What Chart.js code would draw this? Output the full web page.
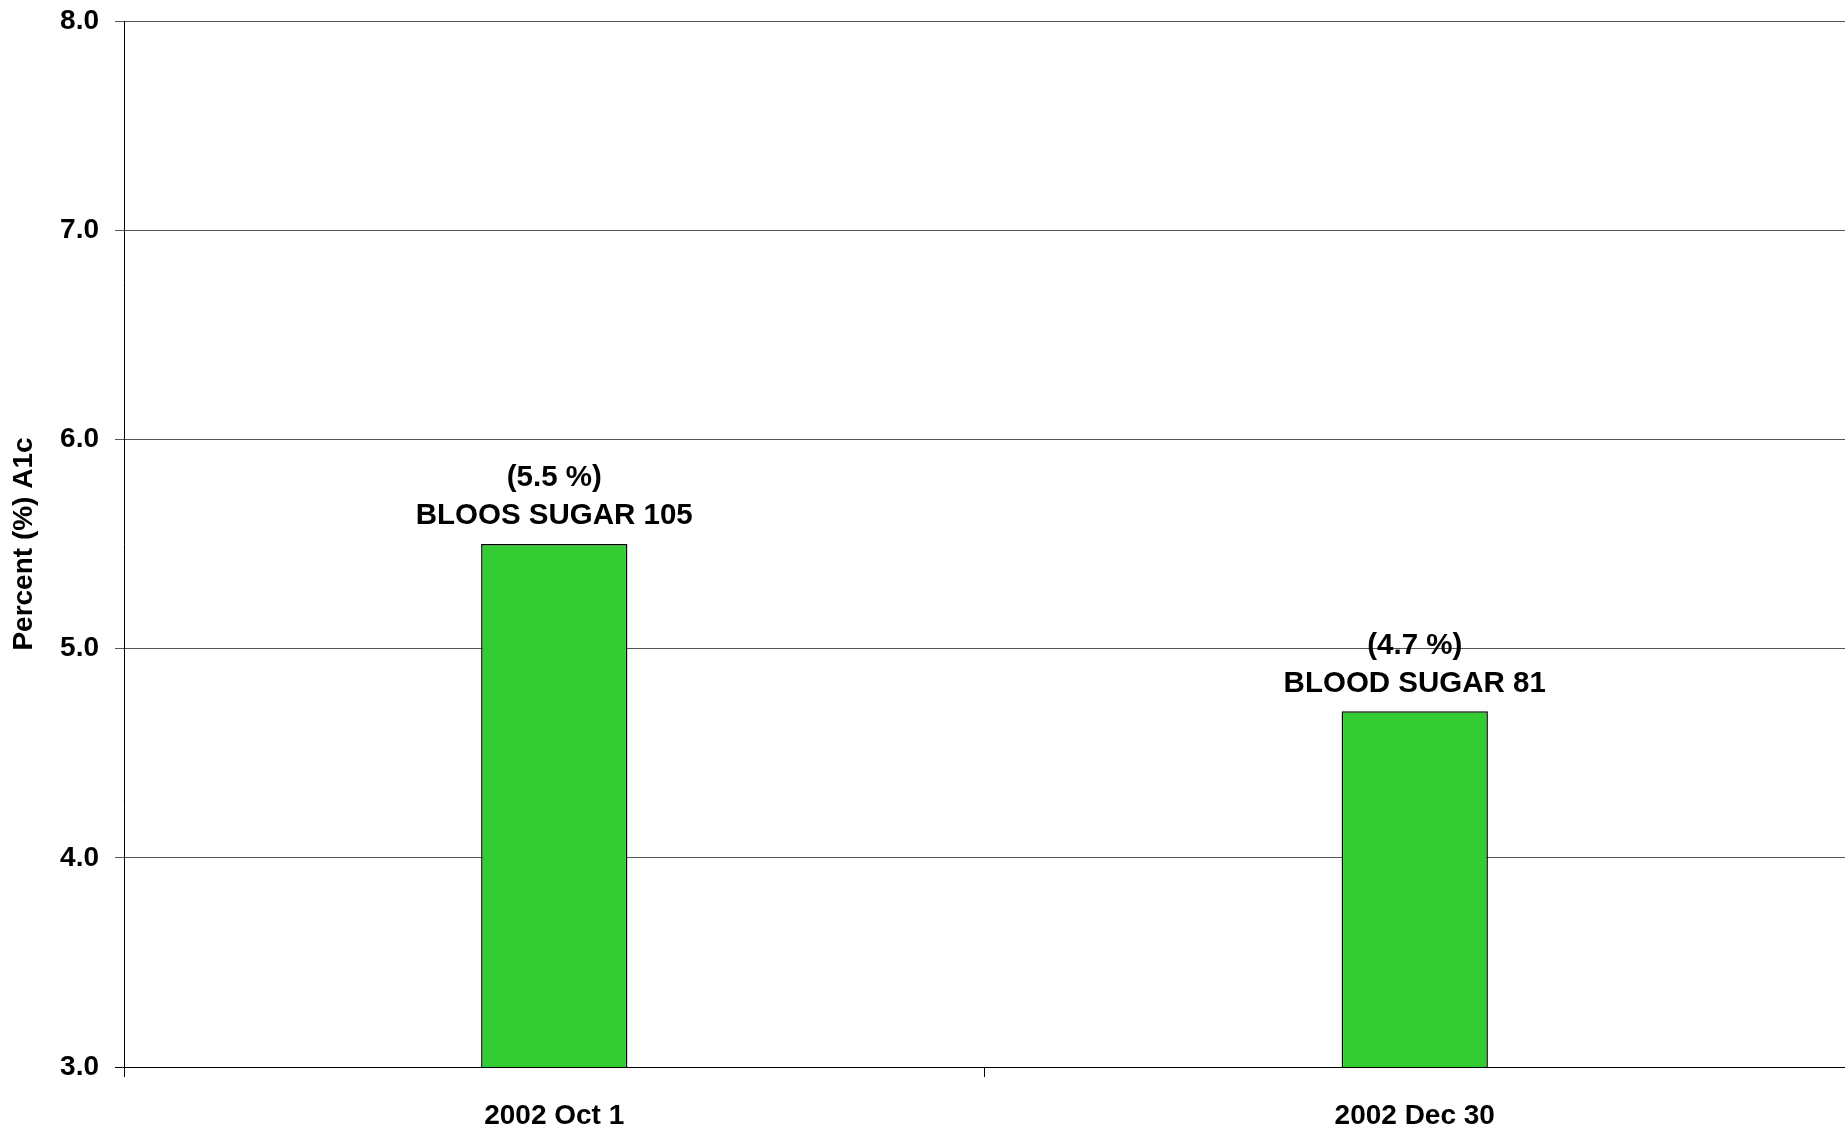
<!DOCTYPE html>
<html>
<head>
<meta charset="utf-8">
<title>Percent (%) A1c</title>
<script src="https://cdn.jsdelivr.net/npm/chart.js@4/dist/chart.umd.min.js"></script>
<style>
  html, body { margin: 0; padding: 0; background: #ffffff; }
  #wrap { width: 1845px; height: 1130px; }
</style>
</head>
<body>
<div id="wrap"><canvas id="chart" width="1845" height="1130"></canvas></div>
<script>
// Test dates and A1c results
const categories = ['2002 Oct 1', '2002 Dec 30'];
const a1cValues = [5.5, 4.7];
const sugarCaptions = ['BLOOS SUGAR', 'BLOOD SUGAR'];
const sugarValues = [105, 81];
const yTicks = [3, 4, 5, 6, 7, 8];

const FONT = '"Liberation Sans", Arial, Helvetica, sans-serif';

// Two-line caption above each bar: "(x.x %)" and the blood sugar reading
const barCaptions = {
  id: 'barCaptions',
  afterDatasetsDraw(chart) {
    const ctx = chart.ctx;
    const meta = chart.getDatasetMeta(0);
    ctx.save();
    ctx.fillStyle = '#000';
    ctx.font = 'bold 29.5px ' + FONT;
    ctx.textAlign = 'center';
    ctx.textBaseline = 'middle';
    meta.data.forEach((bar, i) => {
      const v = a1cValues[i];
      ctx.fillText('(' + v.toFixed(1) + ' %)', bar.x, bar.y - 66);
      ctx.fillText(sugarCaptions[i] + ' ' + sugarValues[i], bar.x, bar.y - 28);
    });
    ctx.restore();
  }
};

// Rotated y-axis title, centred on the plot area
const yTitle = {
  id: 'yTitle',
  afterDraw(chart) {
    const ctx = chart.ctx;
    const area = chart.chartArea;
    ctx.save();
    ctx.translate(24, (area.top + area.bottom) / 2);
    ctx.rotate(-Math.PI / 2);
    ctx.fillStyle = '#000';
    ctx.font = 'bold 28px ' + FONT;
    ctx.textAlign = 'center';
    ctx.textBaseline = 'middle';
    ctx.fillText('Percent (%) A1c', 0, 0);
    ctx.restore();
  }
};

new Chart(document.getElementById('chart'), {
  type: 'bar',
  data: {
    labels: categories,
    datasets: [{
      data: a1cValues,
      backgroundColor: '#33cc33',
      borderColor: '#000000',
      borderWidth: 1.5,
      borderSkipped: false,
      categoryPercentage: 1.0,
      barPercentage: 0.17
    }]
  },
  options: {
    responsive: false,
    devicePixelRatio: 1,
    animation: false,
    layout: { padding: { top: 21, right: 0, bottom: 0, left: 0 } },
    plugins: {
      legend: { display: false },
      tooltip: { enabled: false }
    },
    scales: {
      x: {
        offset: true,
        grid: {
          offset: true,
          drawOnChartArea: false,
          color: '#000000',
          tickLength: 10
        },
        border: { color: '#000000', width: 1 },
        ticks: {
          color: '#000000',
          font: { family: FONT, size: 28, weight: 'bold' },
          padding: 22,
          maxRotation: 0
        },
        afterFit(scale) {
          scale.height = 63;
          scale.paddingLeft = 0;
          scale.paddingRight = 0;
        }
      },
      y: {
        min: yTicks[0],
        max: yTicks[yTicks.length - 1],
        afterBuildTicks(scale) { scale.ticks = yTicks.map(v => ({ value: v })); },
        grid: {
          color: (c) => (c.tick && c.tick.value === yTicks[0]) ? '#000000' : '#555555',
          lineWidth: 1,
          tickLength: 9
        },
        border: { color: '#000000', width: 1 },
        ticks: {
          color: '#000000',
          font: { family: FONT, size: 28, weight: 'bold' },
          padding: 16,
          callback: (v) => Number(v).toFixed(1)
        },
        afterFit(scale) {
          scale.width = 124;
          scale.paddingTop = 0;
          scale.paddingBottom = 0;
        }
      }
    }
  },
  plugins: [barCaptions, yTitle]
});
</script>
</body>
</html>
